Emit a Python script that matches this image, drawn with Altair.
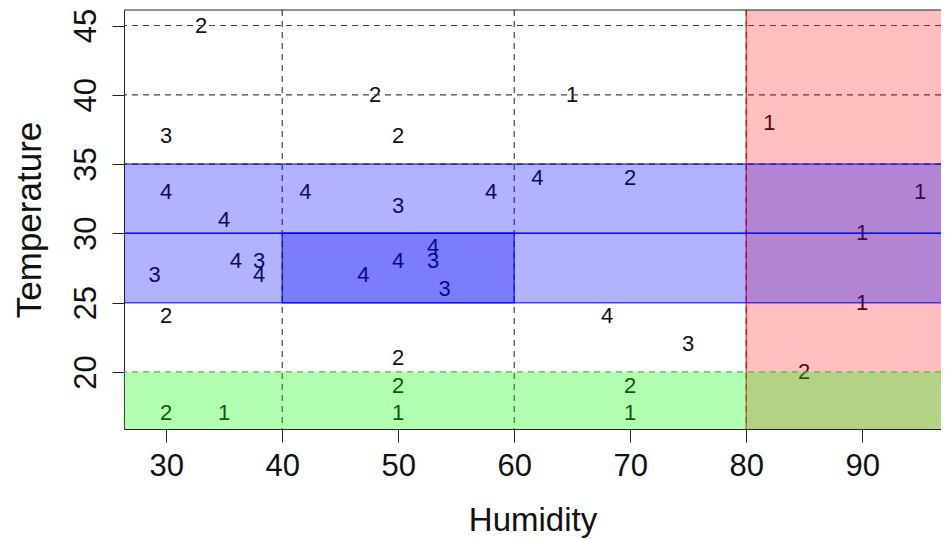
import altair as alt
import pandas as pd

# ---- data ----
humidity = [33, 48, 65, 82, 30, 50, 30, 42, 58, 62, 70, 50, 95, 35, 90, 53, 36, 38,
            50, 53, 29, 38, 47, 54, 90, 30, 68, 75, 50, 85, 50, 70, 30, 35, 50, 70]
temperature = [45, 40, 40, 38, 37, 37, 33, 33, 33, 34, 34, 32, 33, 31, 30, 29, 28, 28,
               28, 28, 27, 27, 27, 26, 25, 24, 24, 22, 21, 20, 19, 19, 17, 17, 17, 17]
labels = ["2", "2", "1", "1", "3", "2", "4", "4", "4", "4", "2", "3", "1", "4", "1", "4", "4", "3",
          "4", "3", "3", "4", "4", "3", "1", "2", "4", "3", "2", "2", "2", "2", "2", "1", "1", "1"]

# shaded regions (extend beyond the plot; clipped)
rect_x1 = [80, -100, -100, 40, -100]
rect_x2 = [200, 200, 200, 60, 200]
rect_y1 = [-100, 25, 30, 25, -100]
rect_y2 = [100, 30, 35, 30, 20]
rect_fill = ["#ff0000", "#0000ff", "#0000ff", "#0000ff", "#00ff00"]
rect_opacity = [0.25, 0.3, 0.3, 0.3, 0.3]
rect_stroke = ["#ff0000", "#0000ff", "#0000ff", "#0000ff", "transparent"]

# dashed reference lines
hline_gray = [35, 40, 45]
vline_gray = [40, 60, 80]
hline_green = [20]

x_ticks = [30, 40, 50, 60, 70, 80, 90]
y_ticks = [20, 25, 30, 35, 40, 45]

X_DOMAIN = [26.36, 96.79]
Y_DOMAIN = [15.88, 46.12]
FONT = "Liberation Sans"

pts = pd.DataFrame({"Humidity": humidity, "Temperature": temperature, "label": labels})
rects = pd.DataFrame({"x1": rect_x1, "x2": rect_x2, "y1": rect_y1, "y2": rect_y2,
                      "fill": rect_fill, "op": rect_opacity, "stroke": rect_stroke,
                      "order": list(range(len(rect_x1)))})

xs = alt.Scale(domain=X_DOMAIN, nice=False, zero=False)
ys = alt.Scale(domain=Y_DOMAIN, nice=False, zero=False)

x_axis = alt.Axis(values=x_ticks, title="Humidity", grid=False, domain=True,
                  domainColor="#222", tickColor="#222", tickSize=13, tickWidth=1,
                  labelFontSize=31, labelFont=FONT, labelColor="#111", labelPadding=9,
                  titleFontSize=33, titleFont=FONT, titleFontWeight="normal",
                  titleColor="#111", titlePadding=23, labelFlush=False)
y_axis = alt.Axis(values=y_ticks, title="Temperature", grid=False, domain=True,
                  domainColor="#222", tickColor="#222", tickSize=12, tickWidth=1,
                  labelFontSize=31, labelFont=FONT, labelColor="#111", labelPadding=10,
                  labelAngle=-90, labelAlign="center", labelBaseline="bottom",
                  titleFontSize=35, titleFont=FONT, titleFontWeight="normal",
                  titleColor="#111", titlePadding=23, labelFlush=False)

text = alt.Chart(pts).mark_text(font=FONT, fontSize=22, color="#111", clip=True).encode(
    x=alt.X("Humidity:Q", scale=xs, axis=x_axis),
    y=alt.Y("Temperature:Q", scale=ys, axis=y_axis),
    text="label:N",
)

gray_h = alt.Chart(pd.DataFrame({"y": hline_gray})).mark_rule(
    color="#444", strokeWidth=1.2, strokeDash=[6, 5], clip=True).encode(
    y=alt.Y("y:Q", scale=ys))
gray_v = alt.Chart(pd.DataFrame({"x": vline_gray})).mark_rule(
    color="#444", strokeWidth=1.2, strokeDash=[6, 5], clip=True).encode(
    x=alt.X("x:Q", scale=xs))

shades = alt.Chart(rects).mark_rect(clip=True, strokeWidth=1.5, strokeOpacity=0.7).encode(
    x=alt.X("x1:Q", scale=xs), x2="x2:Q",
    y=alt.Y("y1:Q", scale=ys), y2="y2:Q",
    fill=alt.Fill("fill:N", scale=None),
    stroke=alt.Stroke("stroke:N", scale=None),
    fillOpacity=alt.FillOpacity("op:Q", scale=None),
    order=alt.Order("order:Q"),
)

green_line = alt.Chart(pd.DataFrame({"y": hline_green})).mark_rule(
    color="#3cc43c", strokeWidth=1.3, strokeDash=[6, 5], clip=True).encode(
    y=alt.Y("y:Q", scale=ys))

top_border = alt.Chart(pd.DataFrame({"y": [0]})).mark_rule(color="#222", strokeWidth=1).encode(
    y=alt.value(0), x=alt.value(0), x2=alt.value(817))

chart = alt.layer(text, gray_h, gray_v, shades, green_line, top_border).properties(
    width=817, height=419,
    autosize=alt.AutoSizeParams(type="none"),
    padding={"left": 116, "top": 2, "right": 0, "bottom": 112},
    background="white",
).configure_view(stroke=None)

chart.save("out.html", embed_options={"renderer": "svg", "actions": False})
